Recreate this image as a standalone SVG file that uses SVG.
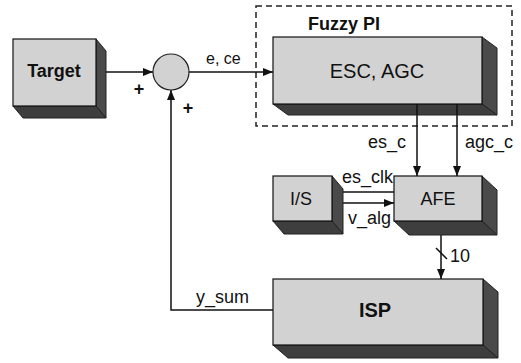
<svg xmlns="http://www.w3.org/2000/svg" width="521" height="363" viewBox="0 0 521 363">
<style>
.front{fill:#d2d2d2;stroke:#111;stroke-width:1.2}
.side{fill:#4a4a4a;stroke:#222;stroke-width:1}
.bot{fill:#3e3e3e;stroke:#222;stroke-width:1}
.ln{fill:none;stroke:#111;stroke-width:1.5}
.t{font-family:"Liberation Sans",Arial,sans-serif;fill:#111}
.lbl{font-size:18px}
.nd{font-size:18px;text-anchor:middle}
.pl{font-size:18px;font-weight:bold;text-anchor:middle}
</style>
<defs>
<marker id="ah" markerWidth="10" markerHeight="8" refX="10" refY="4" orient="auto" markerUnits="userSpaceOnUse">
<path d="M0,0 L10,4 L0,8 z" fill="#111"/>
</marker>
</defs>
<rect width="521" height="363" fill="#fff"/>

<g id="fuzzy-pi">
<rect x="256" y="6" width="256" height="120" fill="none" stroke="#222" stroke-width="1.5" stroke-dasharray="6,4"/>
<text class="t" x="308" y="30" font-size="18" font-weight="bold">Fuzzy PI</text>
</g>

<g id="connectors">
<line class="ln" x1="106" y1="72" x2="153" y2="72" marker-end="url(#ah)"/>
<line class="ln" x1="189" y1="72" x2="273" y2="72" marker-end="url(#ah)"/>
<polyline class="ln" points="273,310 171,310 171,90" marker-end="url(#ah)"/>
<line class="ln" x1="417" y1="104" x2="417" y2="176" marker-end="url(#ah)"/>
<line class="ln" x1="457" y1="104" x2="457" y2="176" marker-end="url(#ah)"/>
<line class="ln" x1="394" y1="192" x2="333" y2="192" marker-end="url(#ah)"/>
<line class="ln" x1="343" y1="203" x2="394" y2="203" marker-end="url(#ah)"/>
<line class="ln" x1="441" y1="221" x2="441" y2="279" marker-end="url(#ah)"/>
<line class="ln" x1="436" y1="248" x2="447" y2="259"/>
<text class="t pl" x="139" y="95">+</text>
<text class="t pl" x="188" y="114">+</text>
<text class="t" x="206" y="64" style="font-size:16px">e, ce</text>
<text class="t lbl" x="368" y="148">es_c</text>
<text class="t lbl" x="465" y="148">agc_c</text>
<text class="t lbl" x="342" y="183">es_clk</text>
<text class="t lbl" x="348" y="224">v_alg</text>
<text class="t lbl" x="450" y="262">10</text>
<text class="t lbl" x="196" y="303">y_sum</text>
</g>

<g id="target">
<polygon class="side" points="96,39 106,51 106,118 96,106"/>
<polygon class="bot" points="13,106 96,106 106,118 23,118"/>
<rect class="front" x="13" y="39" width="83" height="67"/>
<text class="t nd" x="54" y="77" font-weight="bold">Target</text>
</g>

<g id="sum">
<circle cx="171" cy="72" r="18" fill="#d2d2d2" stroke="#222" stroke-width="1.2"/>
</g>

<g id="esc-agc">
<polygon class="side" points="482,37 497,48 497,115 482,104"/>
<polygon class="bot" points="273,104 482,104 497,115 288,115"/>
<rect class="front" x="273" y="37" width="209" height="67"/>
<text class="t nd" x="377" y="78" style="font-size:20px">ESC, AGC</text>
</g>

<g id="is">
<polygon class="side" points="332,176 343,189 343,234 332,221"/>
<polygon class="bot" points="273,221 332,221 343,234 284,234"/>
<rect class="front" x="273" y="176" width="59" height="45"/>
<text class="t nd" x="301" y="205">I/S</text>
</g>

<g id="afe">
<polygon class="side" points="482,176 497,190 497,235 482,221"/>
<polygon class="bot" points="394,221 482,221 497,235 409,235"/>
<rect class="front" x="394" y="176" width="88" height="45"/>
<text class="t nd" x="438" y="205">AFE</text>
</g>

<g id="isp">
<polygon class="side" points="483,279 498,292 498,358 483,345"/>
<polygon class="bot" points="273,345 483,345 498,358 288,358"/>
<rect class="front" x="273" y="279" width="210" height="66"/>
<text class="t nd" x="375" y="317" font-weight="bold" style="font-size:20px">ISP</text>
</g>

<line class="ln" x1="417" y1="104" x2="417" y2="115"/>
<line class="ln" x1="457" y1="104" x2="457" y2="115"/>
</svg>
